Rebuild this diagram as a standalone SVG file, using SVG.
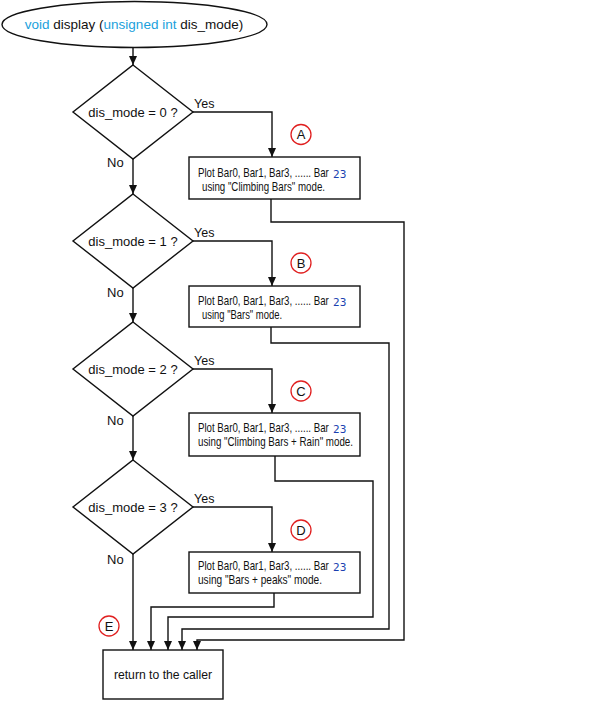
<svg xmlns="http://www.w3.org/2000/svg" width="594" height="702" viewBox="0 0 594 702">
<style>
text{font-family:"Liberation Sans",Arial,sans-serif;fill:#111}
.sh{fill:#fff;stroke:#111;stroke-width:1.4}
.ln{fill:none;stroke:#111;stroke-width:1.4}
.lbl{font-size:13px}
.yes{font-size:12.5px}
.bt{font-size:12.8px}
.kw{fill:#1a9fdc}
.n23{font-family:"DejaVu Sans",Verdana,sans-serif;font-size:10.5px;fill:#1a3fb0}
.tag circle{fill:#fff;stroke:#e02020;stroke-width:1.3}
.tag text{font-size:13px;text-anchor:middle}
</style>
<defs>
<marker id="ah" markerUnits="userSpaceOnUse" markerWidth="9" markerHeight="8" refX="9" refY="4" orient="auto">
<path d="M0,0 L9,4 L0,8 z" fill="#111"/>
</marker>
</defs>
<g id="connectors">
<path class="ln" d="M133,48 V65" marker-end="url(#ah)"/>
<path class="ln" d="M133,159 V194" marker-end="url(#ah)"/>
<path class="ln" d="M133,288 V322" marker-end="url(#ah)"/>
<path class="ln" d="M133,416 V460" marker-end="url(#ah)"/>
<path class="ln" d="M133,554 V650" marker-end="url(#ah)"/>
<path class="ln" d="M193,112 H272 V157" marker-end="url(#ah)"/>
<path class="ln" d="M193,241 H272 V286" marker-end="url(#ah)"/>
<path class="ln" d="M193,369 H272 V413" marker-end="url(#ah)"/>
<path class="ln" d="M193,507 H272 V552" marker-end="url(#ah)"/>
<path class="ln" d="M271,199 V222 H404 V640 H197 V650" marker-end="url(#ah)"/>
<path class="ln" d="M271,327 V343 H389 V629 H182 V650" marker-end="url(#ah)"/>
<path class="ln" d="M275,456 V481 H373 V617 H168 V650" marker-end="url(#ah)"/>
<path class="ln" d="M274,593 V607 H151 V650" marker-end="url(#ah)"/>
<text class="yes" x="194" y="108">Yes</text>
<text class="yes" x="194" y="237">Yes</text>
<text class="yes" x="194" y="365">Yes</text>
<text class="yes" x="194" y="503">Yes</text>
<text class="lbl" x="107" y="167">No</text>
<text class="lbl" x="107" y="297">No</text>
<text class="lbl" x="107" y="425">No</text>
<text class="lbl" x="107" y="564">No</text>
</g>
<g id="start">
<ellipse class="sh" cx="134.5" cy="24.5" rx="132.5" ry="23"/>
<text x="134" y="29" font-size="13.5" text-anchor="middle"><tspan class="kw">void</tspan> display (<tspan class="kw">unsigned int</tspan> dis_mode)</text>
</g>
<g id="dec0">
<polygon class="sh" points="133,65 193,112 133,159 73,112"/>
<text class="lbl" x="133" y="116.5" text-anchor="middle">dis_mode = 0 ?</text>
</g>
<g id="dec1">
<polygon class="sh" points="133,194 193,241 133,288 73,241"/>
<text class="lbl" x="133" y="245.5" text-anchor="middle">dis_mode = 1 ?</text>
</g>
<g id="dec2">
<polygon class="sh" points="133,322 193,369 133,416 73,369"/>
<text class="lbl" x="133" y="373.5" text-anchor="middle">dis_mode = 2 ?</text>
</g>
<g id="dec3">
<polygon class="sh" points="133,460 193,507 133,554 73,507"/>
<text class="lbl" x="133" y="511.5" text-anchor="middle">dis_mode = 3 ?</text>
</g>
<g id="boxA">
<rect class="sh" x="189" y="157" width="171" height="42"/>
<text class="bt" transform="translate(198,177) scale(0.757,1)" x="0" y="0">Plot Bar0, Bar1, Bar3, ...... Bar</text>
<text class="n23" x="333" y="178">23</text>
<text class="bt" x="202" y="191" textLength="123" lengthAdjust="spacingAndGlyphs">using "Climbing Bars" mode.</text>
</g>
<g id="boxB">
<rect class="sh" x="189" y="286" width="171" height="41"/>
<text class="bt" transform="translate(198,305) scale(0.757,1)" x="0" y="0">Plot Bar0, Bar1, Bar3, ...... Bar</text>
<text class="n23" x="333" y="306">23</text>
<text class="bt" x="202" y="319" textLength="80" lengthAdjust="spacingAndGlyphs">using "Bars" mode.</text>
</g>
<g id="boxC">
<rect class="sh" x="189" y="413" width="171" height="43"/>
<text class="bt" transform="translate(198,432) scale(0.757,1)" x="0" y="0">Plot Bar0, Bar1, Bar3, ...... Bar</text>
<text class="n23" x="333" y="433">23</text>
<text class="bt" x="198" y="446" textLength="155" lengthAdjust="spacingAndGlyphs">using "Climbing Bars + Rain" mode.</text>
</g>
<g id="boxD">
<rect class="sh" x="189" y="552" width="171" height="41"/>
<text class="bt" transform="translate(198,570) scale(0.757,1)" x="0" y="0">Plot Bar0, Bar1, Bar3, ...... Bar</text>
<text class="n23" x="333" y="571">23</text>
<text class="bt" x="198" y="584" textLength="124" lengthAdjust="spacingAndGlyphs">using  "Bars + peaks" mode.</text>
</g>
<g id="end">
<rect class="sh" x="103" y="650" width="120" height="49"/>
<text x="163" y="679" font-size="12.2" text-anchor="middle">return to the caller</text>
</g>
<g id="tagA" class="tag"><circle cx="301" cy="134.5" r="10"/><text x="301" y="139">A</text></g>
<g id="tagB" class="tag"><circle cx="301" cy="263" r="10"/><text x="301" y="267.5">B</text></g>
<g id="tagC" class="tag"><circle cx="301" cy="391" r="10"/><text x="301" y="395.5">C</text></g>
<g id="tagD" class="tag"><circle cx="301" cy="530" r="10"/><text x="301" y="534.5">D</text></g>
<g id="tagE" class="tag"><circle cx="109" cy="626" r="10"/><text x="109" y="630.5">E</text></g>
</svg>
